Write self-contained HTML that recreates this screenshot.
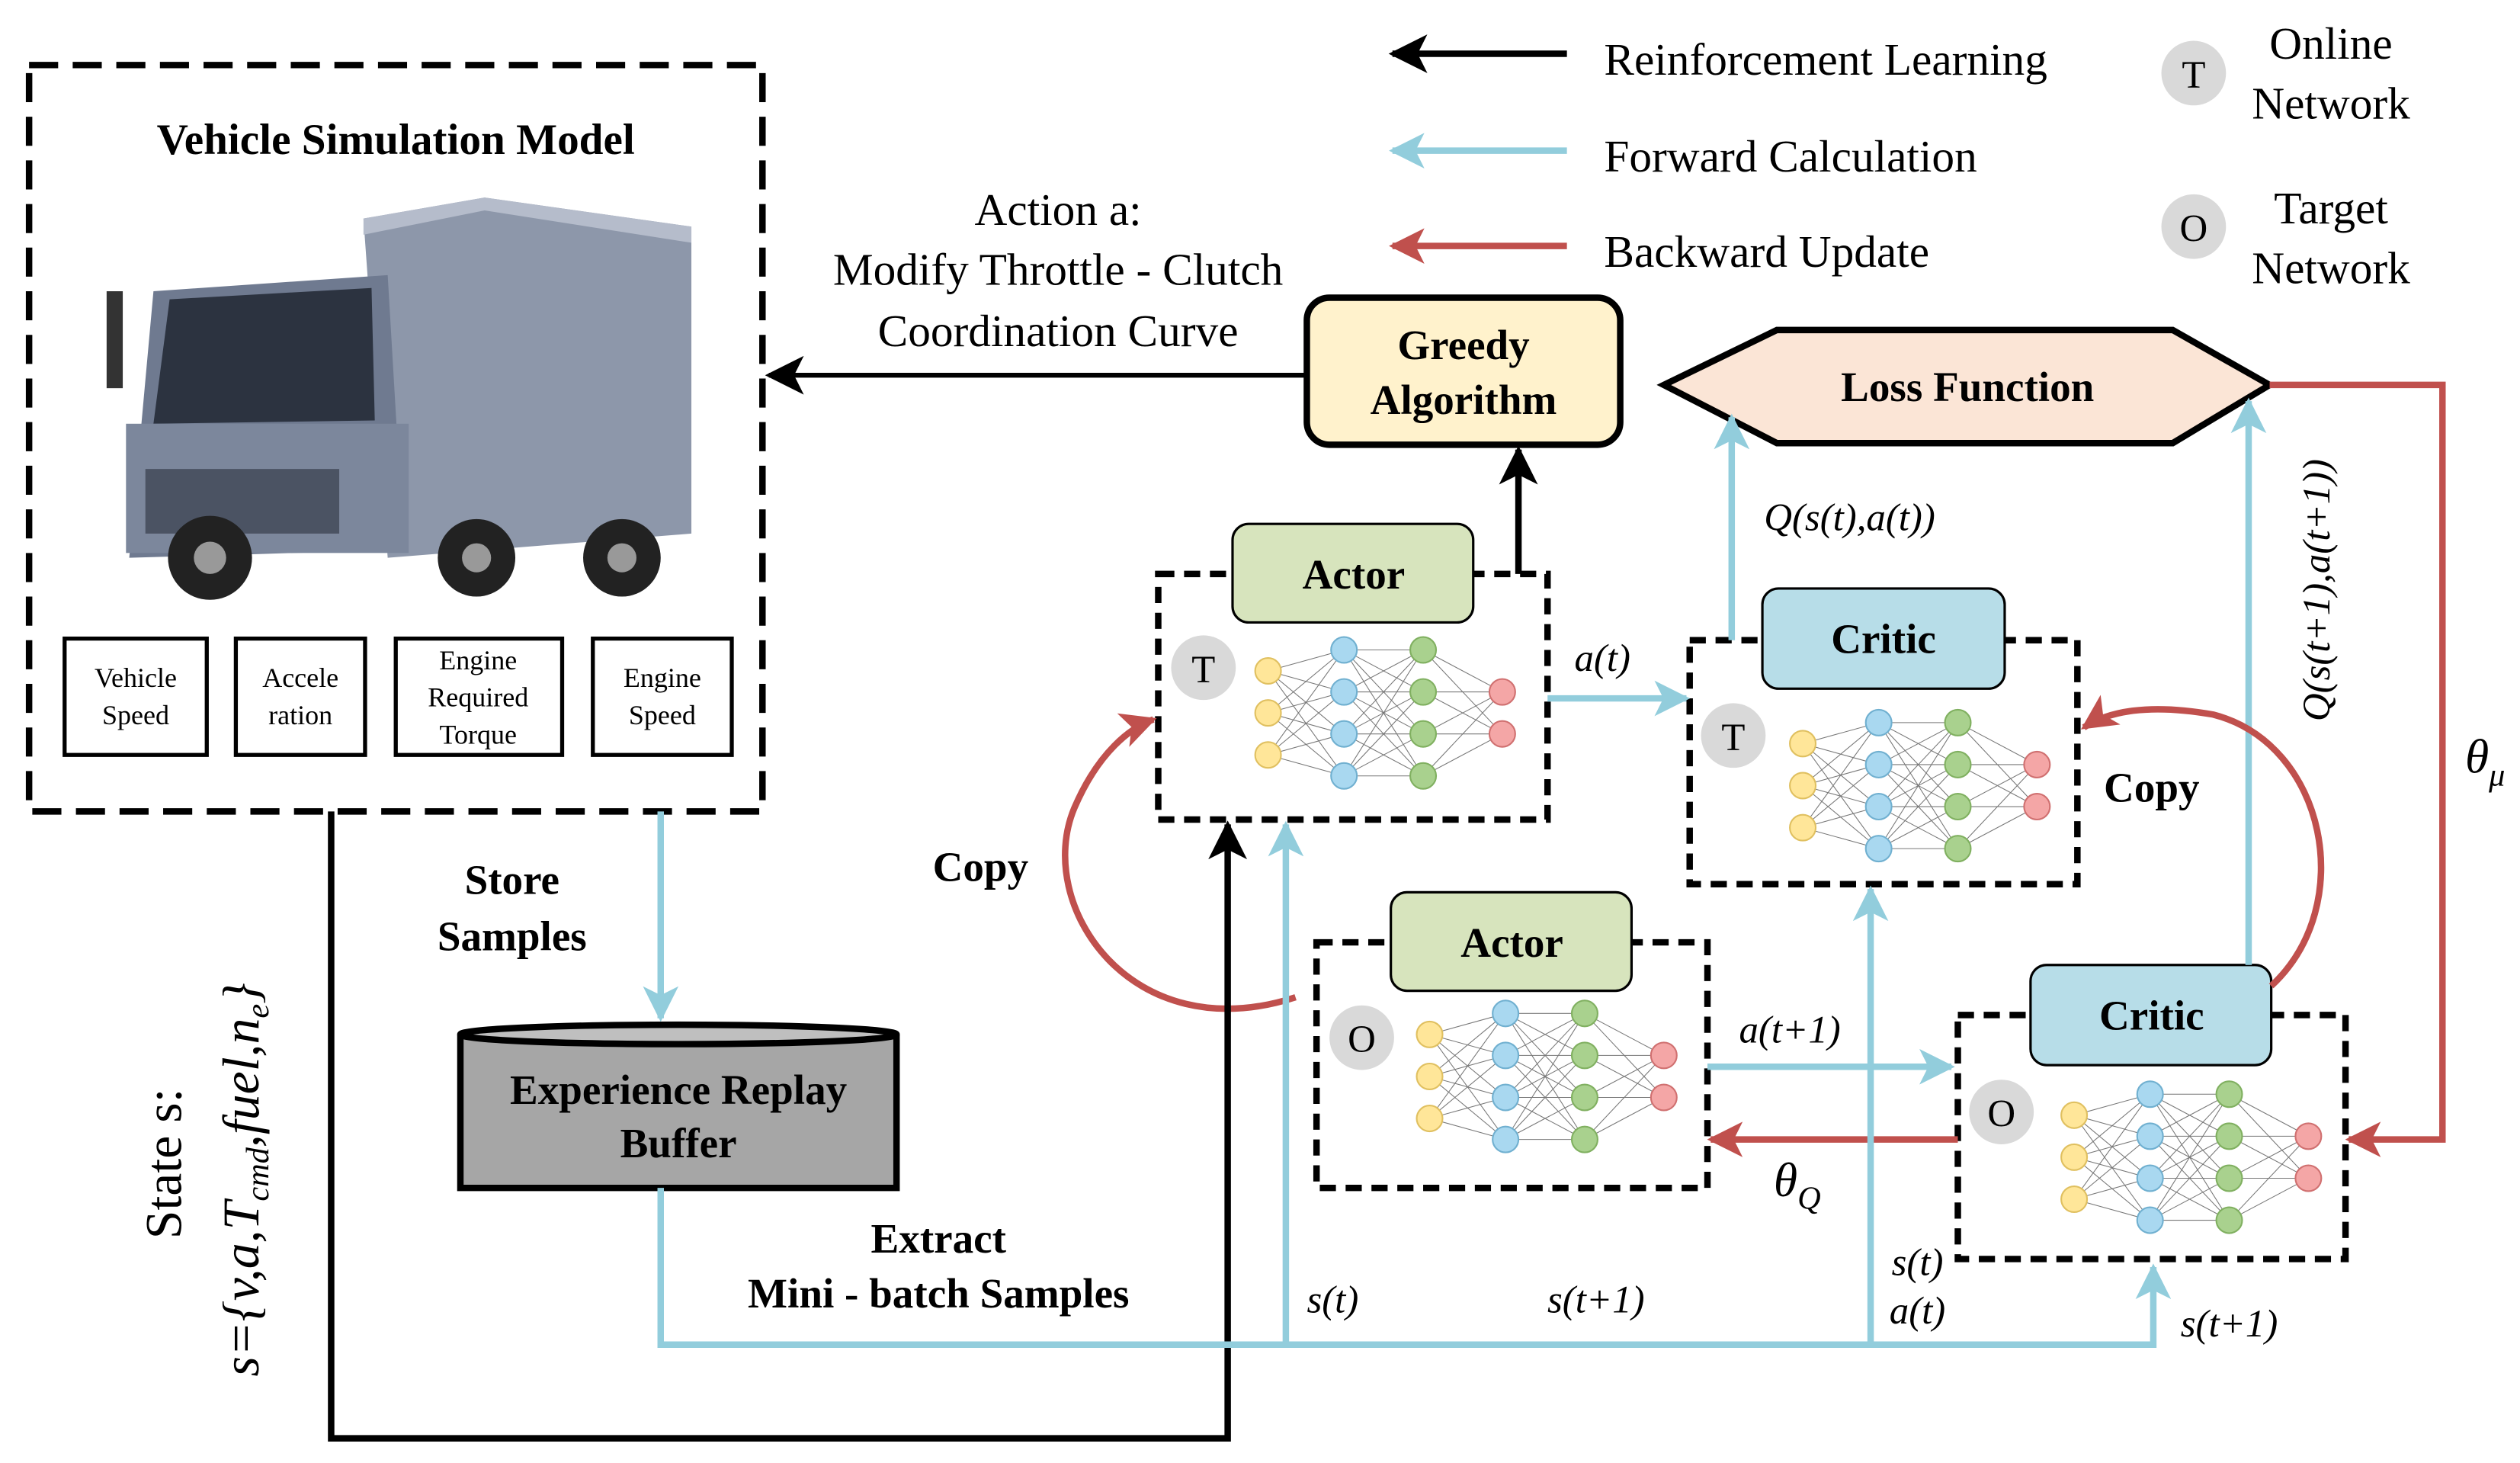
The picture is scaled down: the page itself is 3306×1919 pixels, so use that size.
<!DOCTYPE html>
<html><head><meta charset="utf-8"><style>html,body{margin:0;padding:0;background:#fff}svg{display:block}svg text{font-family:"Liberation Serif","DejaVu Serif",serif}</style></head><body>
<svg width="3306" height="1919" viewBox="0 0 1560 905" xmlns="http://www.w3.org/2000/svg" font-family="Liberation Serif, DejaVu Serif, serif">
<defs>
<marker id="ab" viewBox="0 0 10 10" refX="9" refY="5" markerWidth="22" markerHeight="22" orient="auto" markerUnits="userSpaceOnUse"><path d="M0,0 L10,5 L0,10 L2.5,5z" fill="#92cddc"/></marker>
<marker id="ar" viewBox="0 0 10 10" refX="9" refY="5" markerWidth="22" markerHeight="22" orient="auto" markerUnits="userSpaceOnUse"><path d="M0,0 L10,5 L0,10 L2.5,5z" fill="#c0504d"/></marker>
<marker id="abk" viewBox="0 0 10 10" refX="9" refY="5" markerWidth="24" markerHeight="24" orient="auto" markerUnits="userSpaceOnUse"><path d="M0,0 L10,5 L0,10 L2.5,5z" fill="#000"/></marker>
<g id="nn">
<g stroke="#777" stroke-width="0.5">
<path d="M0,-26L47,-39M0,-26L47,-13M0,-26L47,13M0,-26L47,39M0,0L47,-39M0,0L47,-13M0,0L47,13M0,0L47,39M0,26L47,-39M0,26L47,-13M0,26L47,13M0,26L47,39"/>
<path d="M47,-39L96,-39M47,-39L96,-13M47,-39L96,13M47,-39L96,39M47,-13L96,-39M47,-13L96,-13M47,-13L96,13M47,-13L96,39M47,13L96,-39M47,13L96,-13M47,13L96,13M47,13L96,39M47,39L96,-39M47,39L96,-13M47,39L96,13M47,39L96,39"/>
<path d="M96,-39L145,-13M96,-39L145,13M96,-13L145,-13M96,-13L145,13M96,13L145,-13M96,13L145,13M96,39L145,-13M96,39L145,13"/>
</g>
<g fill="#ffe699" stroke="#e0c060" stroke-width="1"><circle cx="0" cy="-26" r="8"/><circle cx="0" cy="0" r="8"/><circle cx="0" cy="26" r="8"/></g>
<g fill="#a9d8f0" stroke="#70b0d0" stroke-width="1"><circle cx="47" cy="-39" r="8"/><circle cx="47" cy="-13" r="8"/><circle cx="47" cy="13" r="8"/><circle cx="47" cy="39" r="8"/></g>
<g fill="#a9d18e" stroke="#80b060" stroke-width="1"><circle cx="96" cy="-39" r="8"/><circle cx="96" cy="-13" r="8"/><circle cx="96" cy="13" r="8"/><circle cx="96" cy="39" r="8"/></g>
<g fill="#f4a6a6" stroke="#d07070" stroke-width="1"><circle cx="145" cy="-13" r="8"/><circle cx="145" cy="13" r="8"/></g>
</g>
</defs>

<rect x="18" y="40" width="454" height="462" fill="none" stroke="#000" stroke-width="4" stroke-dasharray="18 9"/>
<text x="245" y="95" font-size="27" font-weight="bold" text-anchor="middle">Vehicle Simulation Model</text>
<g>
<polygon points="225,135 300,122 428,140 428,330 240,345" fill="#8d97aa"/>
<polygon points="225,135 300,122 428,140 428,150 300,130 225,145" fill="#b5bccb"/>
<polygon points="95,180 240,170 250,340 80,345" fill="#6f7a90"/>
<polygon points="105,185 230,178 232,260 95,262" fill="#2c3340"/>
<rect x="78" y="262" width="175" height="80" fill="#7c879c"/>
<rect x="90" y="290" width="120" height="40" fill="#4b5363"/>
<rect x="66" y="180" width="10" height="60" fill="#333"/>
<circle cx="130" cy="345" r="26" fill="#222"/><circle cx="130" cy="345" r="10" fill="#999"/>
<circle cx="295" cy="345" r="24" fill="#222"/><circle cx="295" cy="345" r="9" fill="#999"/>
<circle cx="385" cy="345" r="24" fill="#222"/><circle cx="385" cy="345" r="9" fill="#999"/>
</g>
<g fill="#fff" stroke="#000" stroke-width="2.5">
<rect x="40" y="395" width="88" height="72"/><rect x="146" y="395" width="80" height="72"/><rect x="245" y="395" width="103" height="72"/><rect x="367" y="395" width="86" height="72"/>
</g>
<g font-size="17" text-anchor="middle">
<text x="84" y="425">Vehicle</text><text x="84" y="448">Speed</text>
<text x="186" y="425">Accele</text><text x="186" y="448">ration</text>
<text x="296" y="414">Engine</text><text x="296" y="437">Required</text><text x="296" y="460">Torque</text>
<text x="410" y="425">Engine</text><text x="410" y="448">Speed</text>
</g>

<line x1="970" y1="33" x2="862" y2="33" stroke="#000" stroke-width="4" marker-end="url(#abk)"/>
<line x1="970" y1="93" x2="862" y2="93" stroke="#92cddc" stroke-width="4" marker-end="url(#ab)"/>
<line x1="970" y1="152" x2="862" y2="152" stroke="#c0504d" stroke-width="4" marker-end="url(#ar)"/>
<g font-size="28"><text x="993" y="46">Reinforcement Learning</text><text x="993" y="106">Forward Calculation</text><text x="993" y="165">Backward Update</text></g>
<circle cx="1358" cy="45" r="20" fill="#d9d9d9"/><text x="1358" y="54" font-size="24" text-anchor="middle">T</text>
<circle cx="1358" cy="140" r="20" fill="#d9d9d9"/><text x="1358" y="149" font-size="24" text-anchor="middle">O</text>
<g font-size="28" text-anchor="middle"><text x="1443" y="36">Online</text><text x="1443" y="73">Network</text><text x="1443" y="138">Target</text><text x="1443" y="175">Network</text></g>

<g font-size="28" text-anchor="middle"><text x="655" y="139">Action a:</text><text x="655" y="176">Modify Throttle - Clutch</text><text x="655" y="214">Coordination Curve</text></g>
<line x1="808" y1="232" x2="476" y2="232" stroke="#000" stroke-width="3" marker-end="url(#abk)"/>

<rect x="809" y="184" width="194" height="91" rx="14" fill="#fff2cc" stroke="#000" stroke-width="4"/>
<g font-size="26" font-weight="bold" text-anchor="middle"><text x="906" y="222">Greedy</text><text x="906" y="256">Algorithm</text></g>

<polygon points="1030,238 1100,204 1345,204 1405,238 1345,274 1100,274" fill="#fbe5d6" stroke="#000" stroke-width="4"/>
<text x="1218" y="248" font-size="26" font-weight="bold" text-anchor="middle">Loss Function</text>

<g fill="none" stroke="#000" stroke-width="4" stroke-dasharray="10 6">
<rect x="717" y="355" width="241" height="152"/>
<rect x="1046" y="396" width="240" height="151"/>
<rect x="815" y="583" width="242" height="152"/>
<rect x="1212" y="628" width="240" height="151"/>
</g>
<use href="#nn" x="785" y="441"/>
<use href="#nn" x="1116" y="486"/>
<use href="#nn" x="885" y="666"/>
<use href="#nn" x="1284" y="716"/>
<g fill="#d9d9d9"><circle cx="745" cy="413" r="20"/><circle cx="1073" cy="455" r="20"/><circle cx="843" cy="642" r="20"/><circle cx="1239" cy="688" r="20"/></g>
<g font-size="24" text-anchor="middle"><text x="745" y="422">T</text><text x="1073" y="464">T</text><text x="843" y="651">O</text><text x="1239" y="697">O</text></g>

<rect x="763" y="324" width="149" height="61" rx="10" fill="#d7e4bd" stroke="#000" stroke-width="1.5"/>
<rect x="1091" y="364" width="150" height="62" rx="10" fill="#b7dde8" stroke="#000" stroke-width="1.5"/>
<rect x="861" y="552" width="149" height="61" rx="10" fill="#d7e4bd" stroke="#000" stroke-width="1.5"/>
<rect x="1257" y="597" width="149" height="62" rx="10" fill="#b7dde8" stroke="#000" stroke-width="1.5"/>
<g font-size="26" font-weight="bold" text-anchor="middle"><text x="838" y="364">Actor</text><text x="1166" y="404">Critic</text><text x="936" y="592">Actor</text><text x="1332" y="637">Critic</text></g>

<line x1="940" y1="355" x2="940" y2="278" stroke="#000" stroke-width="4" marker-end="url(#abk)"/>
<line x1="958" y1="432" x2="1044" y2="432" stroke="#92cddc" stroke-width="4" marker-end="url(#ab)"/>
<text x="992" y="415" font-size="24" font-style="italic" text-anchor="middle">a(t)</text>
<line x1="1072" y1="396" x2="1072" y2="258" stroke="#92cddc" stroke-width="4" marker-end="url(#ab)"/>
<text x="1145" y="328" font-size="24" font-style="italic" text-anchor="middle">Q(s(t),a(t))</text>
<line x1="1392" y1="597" x2="1392" y2="248" stroke="#92cddc" stroke-width="4" marker-end="url(#ab)"/>
<text transform="translate(1442,365) rotate(-90)" font-size="24" font-style="italic" text-anchor="middle">Q(s(t+1),a(t+1))</text>
<polyline points="1405,238 1512,238 1512,705 1454,705" fill="none" stroke="#c0504d" stroke-width="4" marker-end="url(#ar)"/>
<text x="1526" y="478" font-size="30" font-style="italic">θ<tspan font-size="20" dy="8">μ</tspan></text>
<line x1="1212" y1="705" x2="1059" y2="705" stroke="#c0504d" stroke-width="4" marker-end="url(#ar)"/>
<text x="1098" y="740" font-size="30" font-style="italic">θ<tspan font-size="20" dy="8">Q</tspan></text>
<line x1="1057" y1="660" x2="1208" y2="660" stroke="#92cddc" stroke-width="4" marker-end="url(#ab)"/>
<text x="1108" y="645" font-size="24" font-style="italic" text-anchor="middle">a(t+1)</text>
<path d="M802,617 C700,650 640,560 665,500 C680,465 700,450 714,445" fill="none" stroke="#c0504d" stroke-width="4" marker-end="url(#ar)"/>
<text x="607" y="545" font-size="26" font-weight="bold" text-anchor="middle">Copy</text>
<path d="M1406,610 C1460,560 1440,460 1370,442 C1330,435 1305,440 1290,450" fill="none" stroke="#c0504d" stroke-width="4" marker-end="url(#ar)"/>
<text x="1332" y="496" font-size="26" font-weight="bold" text-anchor="middle">Copy</text>

<polyline points="205,502 205,890 760,890 760,510" fill="none" stroke="#000" stroke-width="4" marker-end="url(#abk)"/>
<line x1="409" y1="502" x2="409" y2="630" stroke="#92cddc" stroke-width="4" marker-end="url(#ab)"/>
<g font-size="26" font-weight="bold" text-anchor="middle"><text x="317" y="553">Store</text><text x="317" y="588">Samples</text>
<text x="581" y="775">Extract</text><text x="581" y="809">Mini - batch Samples</text></g>

<path d="M285,640 L285,735 L555,735 L555,640" fill="#a6a6a6" stroke="#000" stroke-width="4"/>
<ellipse cx="420" cy="640" rx="135" ry="6" fill="#bfbfbf" stroke="#000" stroke-width="4"/>
<g font-size="26" font-weight="bold" text-anchor="middle"><text x="420" y="683">Experience Replay</text><text x="420" y="716">Buffer</text></g>

<polyline points="409,735 409,832 1333,832 1333,784" fill="none" stroke="#92cddc" stroke-width="4" marker-end="url(#ab)"/>
<line x1="796" y1="832" x2="796" y2="510" stroke="#92cddc" stroke-width="4" marker-end="url(#ab)"/>
<line x1="1158" y1="832" x2="1158" y2="550" stroke="#92cddc" stroke-width="4" marker-end="url(#ab)"/>
<g font-size="24" font-style="italic" text-anchor="middle">
<text x="825" y="812">s(t)</text><text x="988" y="812">s(t+1)</text><text x="1187" y="789">s(t)</text><text x="1187" y="819">a(t)</text><text x="1380" y="827">s(t+1)</text></g>

<text transform="translate(112,720) rotate(-90)" font-size="32" text-anchor="middle">State s:</text>
<text transform="translate(160,730) rotate(-90)" font-size="32" font-style="italic" text-anchor="middle">s={v,a,T<tspan font-size="20" dy="6">cmd</tspan><tspan dy="-6">,fuel,n</tspan><tspan font-size="20" dy="6">e</tspan><tspan dy="-6">}</tspan></text>
</svg>
</body></html>
